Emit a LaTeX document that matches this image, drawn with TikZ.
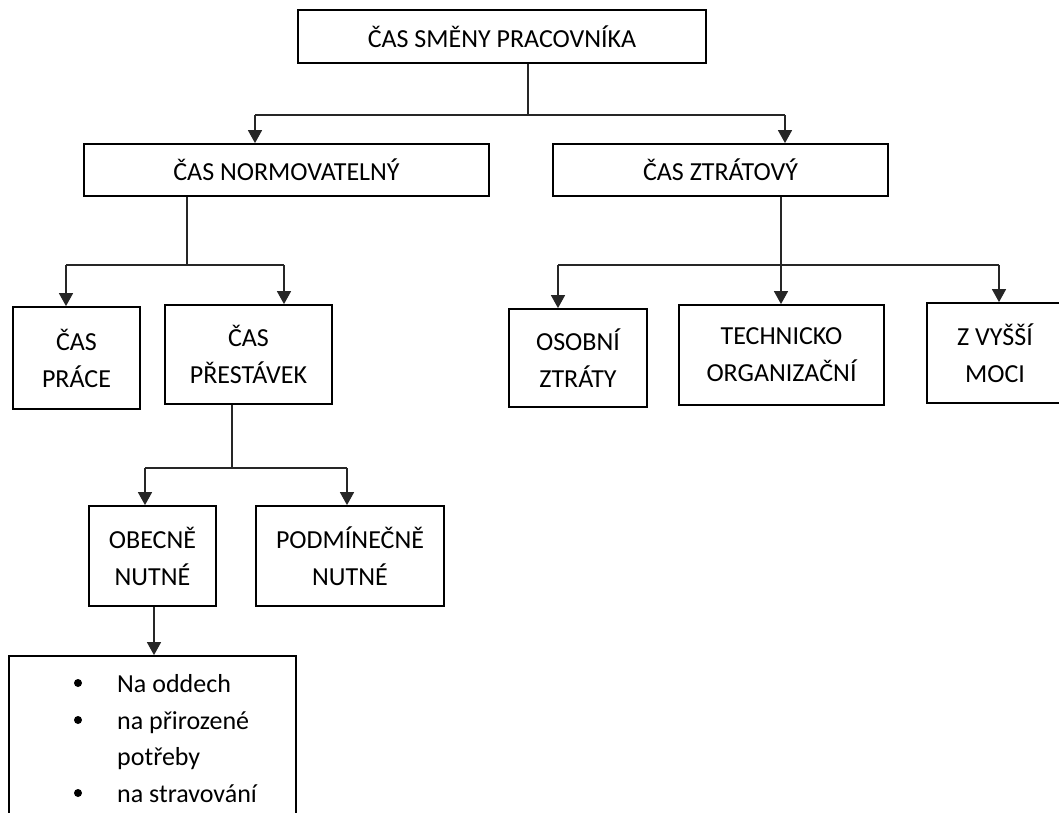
\documentclass[tikz,border=0pt]{standalone}
\usepackage{fontspec}
\setmainfont{Carlito}
\usetikzlibrary{arrows.meta}
\begin{document}
\begin{tikzpicture}[x=1pt,y=-1pt,
  box/.style={draw=black, line width=1.8pt, inner sep=0pt, align=center,
    font=\fontsize{26}{37}\selectfont, text=black},
  conn/.style={line width=1.5pt, draw=black!85},
  arr/.style={conn, -{Triangle[width=14pt,length=13pt]}},
  itemtext/.style={anchor=base west, inner sep=0pt, font=\fontsize{26}{37}\selectfont, text=black}
]
\clip (0,0) rectangle (1059,812);
\useasboundingbox (0,0) rectangle (1059,812);
\fill[white] (0,0) rectangle (1059,812);

% boxes
\node[box, minimum width=408pt, minimum height=53pt] (top) at (502,36.5) {ČAS SMĚNY PRACOVNÍKA};
\node[box, minimum width=405pt, minimum height=52pt] (norm) at (286.5,170) {ČAS NORMOVATELNÝ};
\node[box, minimum width=335pt, minimum height=52pt] (ztr) at (720.5,170) {ČAS ZTRÁTOVÝ};
\node[box, minimum width=127pt, minimum height=102pt] (prace) at (76.5,358) {ČAS\\PRÁCE};
\node[box, minimum width=167pt, minimum height=99pt] (prest) at (248.5,354.5) {ČAS\\PŘESTÁVEK};
\node[box, minimum width=138pt, minimum height=98pt] (osob) at (578,358) {OSOBNÍ\\ZTRÁTY};
\node[box, minimum width=205pt, minimum height=100pt] (tech) at (781.5,355) {TECHNICKO\\ORGANIZAČNÍ};
\node[box, minimum width=136pt, minimum height=100pt] (vyssi) at (995,353) {Z VYŠŠÍ\\MOCI};
\node[box, minimum width=127pt, minimum height=100pt] (obec) at (152.5,556) {OBECNĚ\\NUTNÉ};
\node[box, minimum width=188pt, minimum height=100pt] (podm) at (350,556) {PODMÍNEČNĚ\\NUTNÉ};
\node[box, minimum width=287pt, minimum height=190pt] (list) at (152.5,751) {};

% list contents
\node[itemtext] (i1) at (117,692) {Na oddech};
\node[itemtext] (i2) at (117,729) {na přirozené};
\node[itemtext] (i3) at (117,765) {potřeby};
\node[itemtext] (i4) at (117,802) {na stravování};
\fill[black] (78,683) circle (4pt);
\fill[black] (78,720) circle (4pt);
\fill[black] (78,793) circle (4pt);

% connectors level 1
\coordinate (j1) at (528,115);
\coordinate (b1l) at (255,115);
\coordinate (b1r) at (785,115);
\draw[conn] (top.south -| j1) -- (j1);
\draw[conn] (b1l) -- (b1r);
\draw[arr] (b1l) -- (norm.north -| b1l);
\draw[arr] (b1r) -- (ztr.north -| b1r);

% connectors from norm
\coordinate (j2) at (187,265);
\coordinate (b2l) at (66,265);
\coordinate (b2r) at (284,265);
\draw[conn] (norm.south -| j2) -- (j2);
\draw[conn] (b2l) -- (b2r);
\draw[arr] (b2l) -- (prace.north -| b2l);
\draw[arr] (b2r) -- (prest.north -| b2r);

% connectors from ztr
\coordinate (j3) at (781,265);
\coordinate (b3l) at (558,265);
\coordinate (b3r) at (999,265);
\draw[conn] (b3l) -- (b3r);
\draw[arr] (ztr.south -| j3) -- (tech.north -| j3);
\draw[arr] (b3l) -- (osob.north -| b3l);
\draw[arr] (b3r) -- (vyssi.north -| b3r);

% connectors from prest
\coordinate (j4) at (232,468);
\coordinate (b4l) at (145,468);
\coordinate (b4r) at (347,468);
\draw[conn] (prest.south -| j4) -- (j4);
\draw[conn] (b4l) -- (b4r);
\draw[arr] (b4l) -- (obec.north -| b4l);
\draw[arr] (b4r) -- (podm.north -| b4r);

% obec to list
\coordinate (j5) at (154,606);
\draw[arr] (obec.south -| j5) -- (list.north -| j5);
\end{tikzpicture}
\end{document}
